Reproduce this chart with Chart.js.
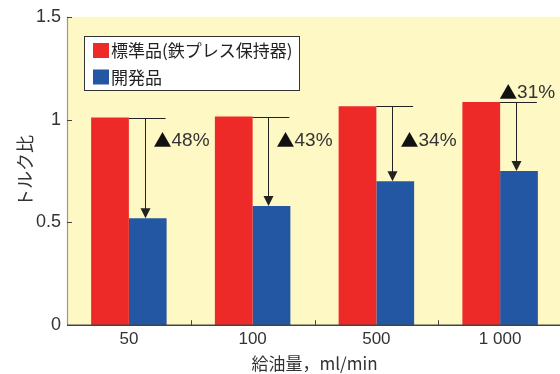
<!DOCTYPE html>
<html><head><meta charset="utf-8">
<script src="https://cdn.jsdelivr.net/npm/chart.js@4/dist/chart.umd.min.js"></script>
<style>
html,body{margin:0;padding:0;background:#fff;overflow:hidden;width:560px;height:374px;}
canvas{display:block;}
</style></head><body>
<canvas id="c" width="570" height="374"></canvas>
<script>
const categories = ['50', '100', '500', '1 000'];
const standardValues = [1.01, 1.015, 1.065, 1.085];
const developedValues = [0.52, 0.58, 0.70, 0.75];
const reductionLabels = ['48%', '43%', '34%', '31%'];
const seriesNames = ['標準品(鉄プレス保持器)', '開発品'];
const xTitle = '給油量，ml/min';
const yTitle = 'トルク比';

const RED = '#EE2A28';
const BLUE = '#2457A3';
const BG = '#FEF8C4';
const TXT = '#333333';
const JP = '"Noto Sans CJK JP", "Noto Sans", sans-serif';
const LAT = '"Liberation Sans", Arial, sans-serif';

const customPlugin = {
  id: 'custom',
  beforeDraw(chart) {
    const {ctx, chartArea: a} = chart;
    ctx.save();
    ctx.fillStyle = BG;
    ctx.fillRect(a.left, a.top, a.right - a.left, a.bottom - a.top);
    ctx.restore();
  },
  afterDraw(chart) {
    const {ctx, chartArea: a, scales} = chart;
    const xs = scales.x, ys = scales.y;
    ctx.save();
    // axes lines
    ctx.strokeStyle = '#9a9a90';
    ctx.lineWidth = 1.2;
    ctx.beginPath(); ctx.moveTo(a.left + 0.5, a.top); ctx.lineTo(a.left + 0.5, a.bottom); ctx.stroke();
    ctx.strokeStyle = '#444';
    ctx.lineWidth = 1.6;
    ctx.beginPath(); ctx.moveTo(a.left, a.bottom); ctx.lineTo(a.right, a.bottom); ctx.stroke();
    // inward ticks
    ctx.strokeStyle = '#444';
    ctx.lineWidth = 1;
    ys.ticks.forEach(t => {
      const py = Math.round(ys.getPixelForValue(t.value)) + 0.5;
      ctx.beginPath(); ctx.moveTo(a.left, py); ctx.lineTo(a.left + 5, py); ctx.stroke();
    });
    for (let i = 1; i < categories.length; i++) {
      const px = Math.round((xs.getPixelForValue(i - 1) + xs.getPixelForValue(i)) / 2) + 0.5;
      ctx.beginPath(); ctx.moveTo(px, a.bottom); ctx.lineTo(px, a.bottom - 5); ctx.stroke();
    }
    // annotations
    const m0 = chart.getDatasetMeta(0), m1 = chart.getDatasetMeta(1);
    for (let i = 0; i < categories.length; i++) {
      const r = m0.data[i], b = m1.data[i];
      const ry = Math.round(r.y) + 0.5;
      const by = b.y;
      const x0 = r.x + r.width / 2;
      const x1 = b.x + b.width / 2 - 1;
      const ax = Math.round(b.x - 3) + 0.5;
      ctx.strokeStyle = '#222';
      ctx.fillStyle = '#222';
      ctx.lineWidth = 1;
      ctx.beginPath(); ctx.moveTo(x0, ry); ctx.lineTo(x1, ry); ctx.stroke();
      ctx.beginPath(); ctx.moveTo(ax, ry); ctx.lineTo(ax, by - 8); ctx.stroke();
      ctx.beginPath(); ctx.moveTo(ax - 5, by - 10); ctx.lineTo(ax + 5, by - 10); ctx.lineTo(ax, by); ctx.closePath(); ctx.fill();
      let lx, ly;
      if (i < categories.length - 1) {
        lx = ax + 8; ly = ys.getPixelForValue(0.9);
      } else {
        lx = x0 - 1; ly = r.y - 10;
      }
      ctx.textBaseline = 'middle';
      ctx.textAlign = 'left';
      ctx.font = '18px ' + JP;
      ctx.fillStyle = '#111';
      ctx.fillText('▲', lx, ly);
      const tw = ctx.measureText('▲').width;
      ctx.font = '19px ' + LAT;
      ctx.fillStyle = TXT;
      ctx.fillText(reductionLabels[i], lx + tw, ly + 1);
    }
    // legend
    const lgX = 84, lgY = 36, lgW = 215, lgH = 54;
    ctx.fillStyle = '#fff';
    ctx.fillRect(lgX, lgY, lgW, lgH);
    ctx.strokeStyle = '#333';
    ctx.lineWidth = 1;
    ctx.strokeRect(lgX + 0.5, lgY + 0.5, lgW, lgH);
    const colors = [RED, BLUE];
    ctx.font = '17px ' + JP;
    ctx.textBaseline = 'middle';
    ctx.textAlign = 'left';
    seriesNames.forEach((n, k) => {
      const yy = lgY + 7 + k * 26.5;
      ctx.fillStyle = colors[k];
      ctx.fillRect(lgX + 9, yy, 16, 15);
      ctx.fillStyle = '#222';
      ctx.fillText(n, lgX + 27, yy + 8);
    });
    ctx.restore();
  }
};

new Chart(document.getElementById('c'), {
  type: 'bar',
  data: {
    labels: categories,
    datasets: [
      {label: seriesNames[0], data: standardValues, backgroundColor: RED, borderWidth: 0},
      {label: seriesNames[1], data: developedValues, backgroundColor: BLUE, borderWidth: 0}
    ]
  },
  options: {
    responsive: false,
    animation: false,
    devicePixelRatio: 1,
    layout: {padding: {top: 9, right: 8, left: 0, bottom: 0}},
    plugins: {legend: {display: false}, tooltip: {enabled: false}},
    datasets: {bar: {categoryPercentage: 0.61, barPercentage: 1}},
    scales: {
      x: {
        grid: {display: false, drawTicks: false},
        border: {display: false},
        ticks: {color: TXT, font: {size: 17, family: LAT}, padding: 4},
        title: {display: true, text: xTitle, color: TXT, font: {size: 17, family: JP}, padding: {top: 0, bottom: 0}}
      },
      y: {
        min: 0, max: 1.5,
        grid: {display: false, drawTicks: false},
        border: {display: false},
        afterFit: s => { s.width = 67; },
        ticks: {stepSize: 0.5, color: TXT, font: {size: 18, family: LAT}, padding: 6,
                callback: v => String(v)},
        title: {display: true, text: yTitle, color: TXT, font: {size: 18, family: JP, lineHeight: 1}, padding: {top: 16, bottom: 0}}
      }
    }
  },
  plugins: [customPlugin]
});
</script>
</body></html>
